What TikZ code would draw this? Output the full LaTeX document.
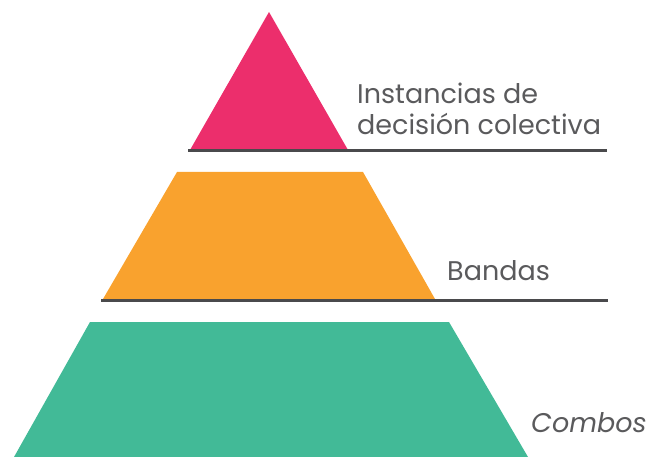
\documentclass[tikz,border=0pt]{standalone}
\usepackage{fontspec}
\setmainfont{Poppins}
\definecolor{pinkc}{HTML}{EC2E6C}
\definecolor{orangec}{HTML}{F9A22E}
\definecolor{greenc}{HTML}{42BA97}
\definecolor{linec}{HTML}{4A4A4C}
\definecolor{textc}{HTML}{5A5A5C}
\tikzset{
  baseline rule/.style={draw=linec, line width=3pt, line cap=butt},
  label text/.style={anchor=base west, inner sep=0pt, text=textc, font=\fontsize{27}{31}\selectfont, align=left},
}
\begin{document}
\begin{tikzpicture}[x=1pt,y=-1pt]
\useasboundingbox (0,0) rectangle (647,457);
% top triangle
\fill[pinkc] (269,12) -- (348,150) -- (190,150) -- cycle;
\coordinate (l1a) at (188,151);
\coordinate (l1b) at (607,151);
\draw[baseline rule] (l1a) -- (l1b);
% middle trapezoid
\fill[orangec] (177,172) -- (363,172) -- (435,299) -- (103,299) -- cycle;
\coordinate (l2a) at (101,300.5);
\coordinate (l2b) at (608,300.5);
\draw[baseline rule] (l2a) -- (l2b);
% bottom trapezoid
\fill[greenc] (90,322) -- (449,322) -- (528,457) -- (14,457) -- cycle;
% labels
\node[label text] (t1) at (357,104) {Instancias de};
\node[label text] (t2) at (357,135) {decisión colectiva};
\node[label text] (t3) at (447,280) {Bandas};
\node[label text, font=\fontsize{27}{31}\selectfont\itshape] (t4) at (531,432) {Combos};
\end{tikzpicture}
\end{document}
